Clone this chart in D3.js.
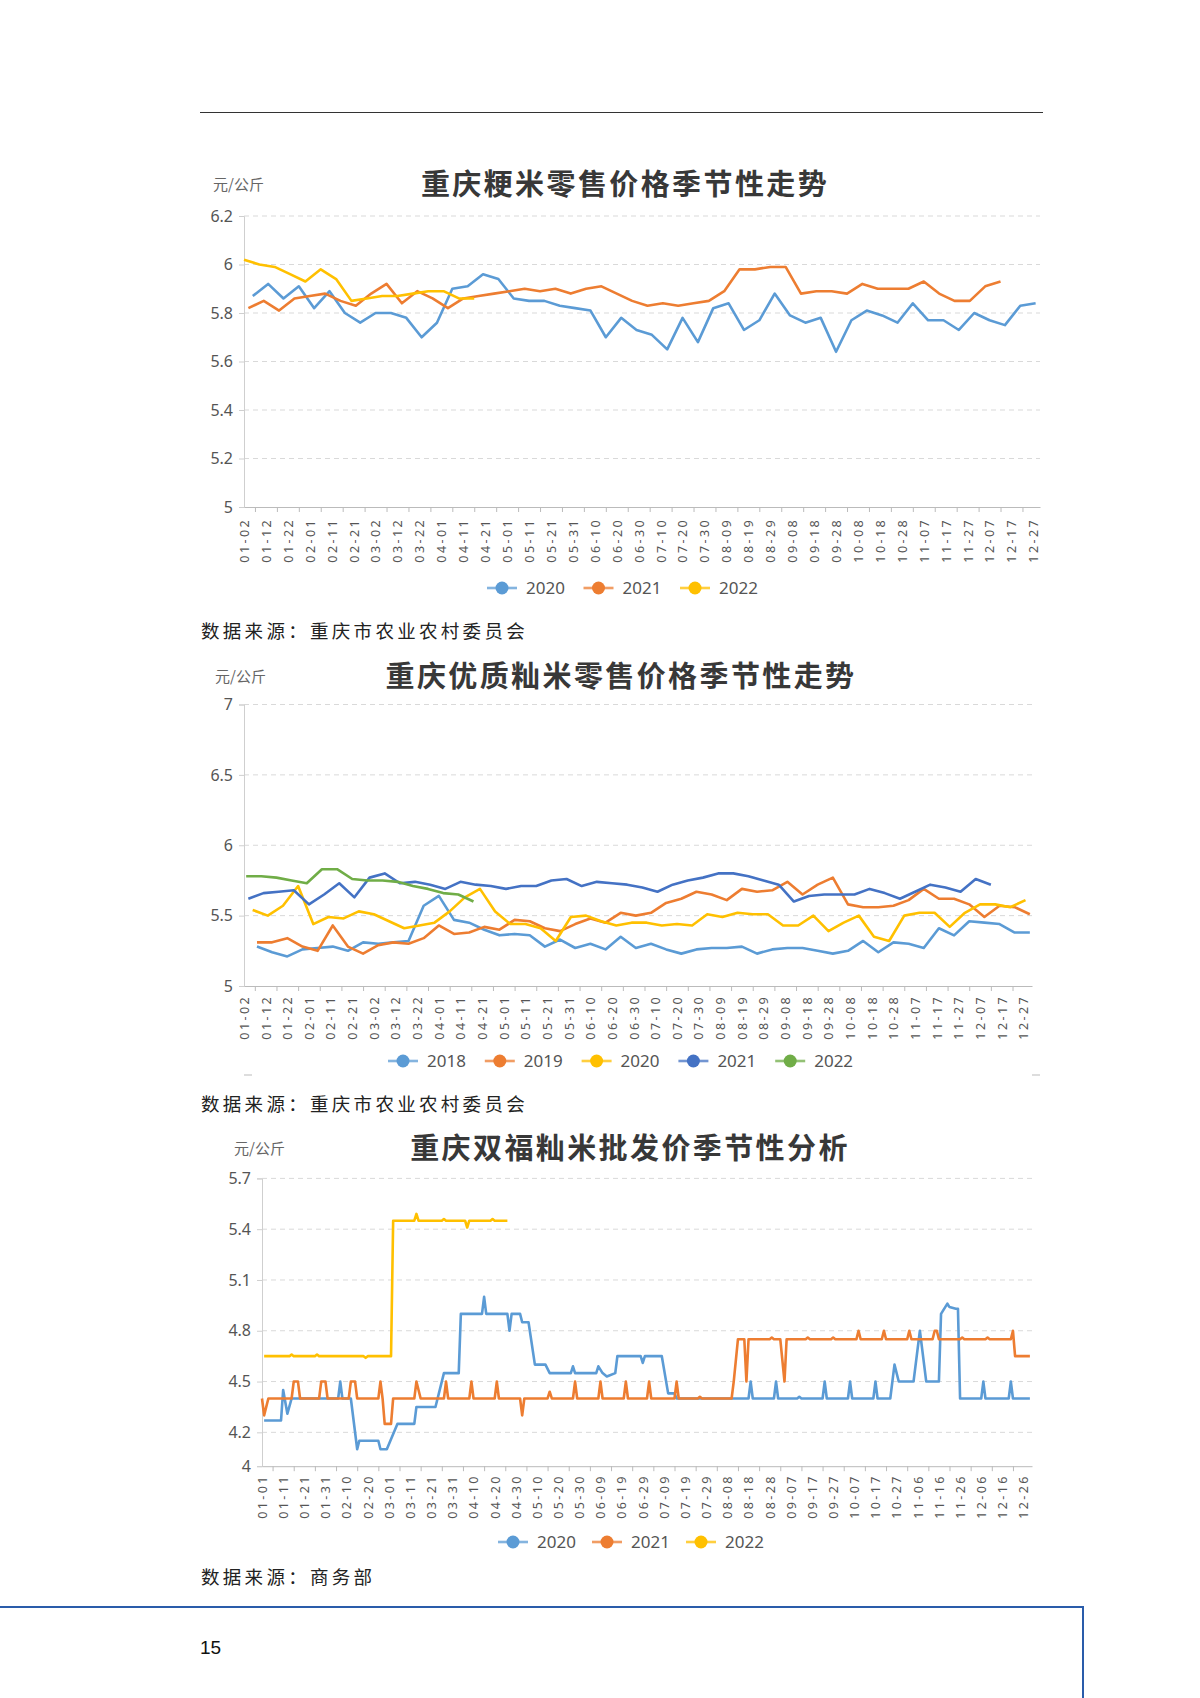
<!DOCTYPE html>
<html>
<head>
<meta charset="utf-8">
<script src="https://cdn.jsdelivr.net/npm/d3@7"></script>
<style>
body { margin: 0; background: #fff; }
svg { display: block; }
text { font-family: "Noto Sans CJK SC", "Noto Sans", sans-serif; }
</style>
</head>
<body>
<script>
// ---- data ----
var title1 = '重庆粳米零售价格季节性走势'
var title2 = '重庆优质籼米零售价格季节性走势'
var title3 = '重庆双福籼米批发价季节性分析'
var unitLabel = '元/公斤'

var yTicks1 = [5, 5.2, 5.4, 5.6, 5.8, 6, 6.2]
var yTicks2 = [5, 5.5, 6, 6.5, 7]
var yTicks3 = [4, 4.2, 4.5, 4.8, 5.1, 5.4, 5.7]

var xLabelsA = ['01-02','01-12','01-22','02-01','02-11','02-21','03-02','03-12','03-22','04-01','04-11','04-21',
	'05-01','05-11','05-21','05-31','06-10','06-20','06-30','07-10','07-20','07-30','08-09','08-19','08-29',
	'09-08','09-18','09-28','10-08','10-18','10-28','11-07','11-17','11-27','12-07','12-17','12-27']
var xLabelsB = ['01-01','01-11','01-21','01-31','02-10','02-20','03-01','03-11','03-21','03-31','04-10','04-20',
	'04-30','05-10','05-20','05-30','06-09','06-19','06-29','07-09','07-19','07-29','08-08','08-18','08-28',
	'09-07','09-17','09-27','10-07','10-17','10-27','11-06','11-16','11-26','12-06','12-16','12-26']

// chart 1: 粳米 weekly retail price
var jp2020Start = '01-06'
var jp2020 = [5.87,5.92,5.86,5.91,5.82,5.89,5.80,5.76,5.80,5.80,5.78,5.70,5.76,5.90,5.91,5.96,5.94,5.86,5.85,5.85,
	5.83,5.82,5.81,5.70,5.78,5.73,5.71,5.65,5.78,5.68,5.82,5.84,5.73,5.77,5.88,5.79,5.76,5.78,5.64,5.77,
	5.81,5.79,5.76,5.84,5.77,5.77,5.73,5.80,5.77,5.75,5.83,5.84]
var jp2021Start = '01-04'
var jp2021 = [5.82,5.85,5.81,5.86,5.87,5.88,5.85,5.83,5.88,5.92,5.84,5.89,5.86,5.82,5.86,5.87,5.88,5.89,5.90,5.89,
	5.90,5.88,5.90,5.91,5.88,5.85,5.83,5.84,5.83,5.84,5.85,5.89,5.98,5.98,5.99,5.99,5.88,5.89,5.89,5.88,
	5.92,5.90,5.90,5.90,5.93,5.88,5.85,5.85,5.91,5.93]
var jp2022Start = '01-02'
var jp2022 = [6.02,6.00,5.99,5.96,5.93,5.98,5.94,5.85,5.86,5.87,5.87,5.88,5.89,5.89,5.86,5.86]

// chart 2: 优质籼米 weekly retail price
var yz2018Start = '01-08'
var yz2018 = [5.28,5.24,5.21,5.26,5.27,5.28,5.25,5.31,5.30,5.31,5.32,5.57,5.64,5.47,5.45,5.40,5.36,5.37,5.36,5.28,
	5.33,5.27,5.30,5.26,5.35,5.27,5.30,5.26,5.23,5.26,5.27,5.27,5.28,5.23,5.26,5.27,5.27,5.25,5.23,5.25,
	5.32,5.24,5.31,5.30,5.27,5.41,5.36,5.46,5.45,5.44,5.38,5.38]
var yz2019Start = '01-08'
var yz2019 = [5.31,5.31,5.34,5.28,5.25,5.43,5.28,5.23,5.29,5.31,5.30,5.34,5.43,5.37,5.38,5.42,5.40,5.47,5.46,5.41,
	5.39,5.44,5.48,5.45,5.52,5.50,5.52,5.59,5.62,5.67,5.65,5.61,5.69,5.67,5.68,5.74,5.65,5.72,5.77,5.58,
	5.56,5.56,5.57,5.61,5.69,5.62,5.62,5.58,5.49,5.57,5.56,5.51]
var yz2020Start = '01-06'
var yz2020 = [5.54,5.50,5.57,5.71,5.44,5.49,5.48,5.53,5.51,5.46,5.41,5.43,5.45,5.53,5.63,5.69,5.53,5.44,5.44,5.41,
	5.32,5.49,5.50,5.46,5.43,5.45,5.45,5.43,5.44,5.43,5.51,5.49,5.52,5.51,5.51,5.43,5.43,5.50,5.39,5.45,
	5.50,5.35,5.32,5.50,5.52,5.52,5.42,5.52,5.58,5.58,5.56,5.61]
var yz2021Start = '01-04'
var yz2021 = [5.62,5.66,5.67,5.68,5.58,5.65,5.73,5.63,5.77,5.80,5.73,5.74,5.72,5.69,5.74,5.72,5.71,5.69,5.71,5.71,
	5.75,5.76,5.71,5.74,5.73,5.72,5.70,5.67,5.72,5.75,5.77,5.80,5.80,5.78,5.75,5.72,5.60,5.64,5.65,5.65,
	5.65,5.69,5.66,5.62,5.67,5.72,5.70,5.67,5.76,5.72]
var yz2022Start = '01-03'
var yz2022 = [5.78,5.78,5.77,5.75,5.73,5.83,5.83,5.76,5.75,5.75,5.74,5.71,5.69,5.66,5.65,5.60]

// chart 3: 双福籼米 daily wholesale price, [date, price] at each change
var sf2020 = [['01-02',4.27],['01-10',4.27],['01-11',4.45],['01-13',4.31],['01-15',4.4],['02-06',4.4],['02-07',4.5],
	['02-08',4.4],['02-12',4.4],['02-15',4.1],['02-16',4.15],['02-25',4.15],['02-26',4.1],['02-29',4.1],['03-05',4.25],
	['03-13',4.25],['03-14',4.35],['03-23',4.35],['03-27',4.55],['04-03',4.55],['04-04',4.9],['04-14',4.9],['04-15',5.0],
	['04-16',4.9],['04-26',4.9],['04-27',4.8],['04-28',4.9],['05-02',4.9],['05-03',4.85],['05-06',4.85],['05-09',4.6],
	['05-14',4.6],['05-16',4.55],['05-26',4.55],['05-27',4.59],['05-28',4.55],['06-07',4.55],['06-08',4.59],['06-10',4.55],
	['06-12',4.53],['06-16',4.55],['06-17',4.65],['06-28',4.65],['06-29',4.61],['06-30',4.65],['07-08',4.65],['07-11',4.43],
	['07-14',4.43],['07-15',4.4],['08-18',4.4],['08-19',4.5],['08-20',4.4],['08-30',4.4],['08-31',4.5],['09-01',4.4],
	['09-10',4.4],['09-11',4.41],['09-12',4.4],['09-22',4.4],['09-23',4.5],['09-24',4.4],['10-04',4.4],['10-05',4.5],
	['10-06',4.4],['10-16',4.4],['10-17',4.5],['10-18',4.4],['10-24',4.4],['10-26',4.6],['10-28',4.5],['11-04',4.5],
	['11-07',4.8],['11-10',4.5],['11-16',4.5],['11-17',4.9],['11-20',4.96],['11-21',4.94],['11-24',4.93],['11-25',4.93],
	['11-26',4.4],['12-06',4.4],['12-07',4.5],['12-08',4.4],['12-19',4.4],['12-20',4.5],['12-21',4.4],['12-29',4.4]]
var sf2021 = [['01-01',4.4],['01-02',4.3],['01-04',4.4],['01-15',4.4],['01-16',4.5],['01-18',4.5],['01-19',4.4],
	['01-28',4.4],['01-29',4.5],['01-31',4.5],['02-01',4.4],['02-11',4.4],['02-12',4.5],['02-14',4.5],['02-15',4.4],
	['02-25',4.4],['02-26',4.5],['02-27',4.4],['02-28',4.25],['03-02',4.25],['03-03',4.4],['03-13',4.4],['03-14',4.5],
	['03-16',4.4],['03-27',4.4],['03-28',4.5],['03-29',4.4],['04-08',4.4],['04-09',4.5],['04-10',4.4],['04-20',4.4],
	['04-21',4.5],['04-22',4.4],['05-02',4.4],['05-03',4.3],['05-04',4.4],['05-15',4.4],['05-16',4.44],['05-17',4.4],
	['05-27',4.4],['05-28',4.5],['05-29',4.4],['06-08',4.4],['06-09',4.5],['06-10',4.4],['06-20',4.4],['06-21',4.5],
	['06-22',4.4],['07-01',4.4],['07-02',4.5],['07-03',4.4],['07-14',4.4],['07-15',4.5],['07-16',4.4],['07-25',4.4],
	['07-26',4.41],['07-27',4.4],['08-10',4.4],['08-11',4.5],['08-13',4.75],['08-16',4.75],['08-17',4.5],['08-18',4.75],
	['08-28',4.75],['08-29',4.76],['08-30',4.75],['09-02',4.75],['09-04',4.5],['09-05',4.75],['09-14',4.75],['09-15',4.76],
	['09-16',4.75],['09-26',4.75],['09-27',4.76],['09-28',4.75],['10-08',4.75],['10-09',4.8],['10-10',4.75],['10-20',4.75],
	['10-21',4.8],['10-22',4.75],['11-01',4.75],['11-02',4.8],['11-03',4.75],['11-13',4.75],['11-14',4.8],['11-15',4.8],
	['11-16',4.75],['11-26',4.75],['11-27',4.76],['11-28',4.75],['12-08',4.75],['12-09',4.76],['12-10',4.75],['12-20',4.75],
	['12-21',4.8],['12-22',4.65],['12-29',4.65]]
var sf2022 = [['01-02',4.65],['01-14',4.65],['01-15',4.66],['01-16',4.65],['01-26',4.65],['01-27',4.66],['01-28',4.65],
	['02-18',4.65],['02-19',4.64],['02-20',4.65],['03-02',4.65],['03-03',5.45],['03-13',5.45],['03-14',5.49],['03-15',5.45],
	['03-26',5.45],['03-27',5.46],['03-28',5.45],['04-06',5.45],['04-07',5.41],['04-08',5.45],['04-18',5.45],['04-19',5.46],
	['04-20',5.45],['04-26',5.45]]

var blue = '#5B9BD5', orange = '#ED7D31', yellow = '#FFC000', navy = '#4472C4', green = '#70AD47'

// ---- helpers ----
// day of year on a leap-year calendar (the charts show 02-29)
var base = new Date(2020, 0, 0)
function dayOf(s) { return d3.timeDay.count(base, new Date(2020, +s.slice(0, 2) - 1, +s.slice(3))) }
function weekly(start, vals) {
	var d0 = dayOf(start)
	return vals.map(function (v, i) { return [d0 + 7 * i, v] })
}
function daily(pairs) { return pairs.map(function (p) { return [dayOf(p[0]), p[1]] }) }

var W = 1200, H = 1698
var svg = d3.select('body').append('svg').attr('width', W).attr('height', H)

// page decoration
svg.append('line').attr('x1', 200).attr('x2', 1043).attr('y1', 112.5).attr('y2', 112.5)
	.attr('stroke', '#333').attr('stroke-width', 1.2)

function drawChart(c) {
	var g = svg.append('g')
	var x = d3.scaleLinear().domain([dayOf(c.xFrom), dayOf(c.xTo)]).range([c.left, c.right])
	var y = d3.scaleLinear().domain([c.yTicks[0], c.yTicks[c.yTicks.length - 1]]).range([c.bottom, c.top])

	// title + unit
	g.append('text').attr('x', c.titleX).attr('y', c.titleY).attr('dy', '0.36em')
		.attr('text-anchor', 'middle').attr('font-size', 29).attr('font-weight', 700)
		.attr('letter-spacing', 2.4).attr('fill', '#383838').text(c.title)
	g.append('text').attr('x', c.unitX).attr('y', c.titleY).attr('dy', '0.36em')
		.attr('font-size', 15).attr('fill', '#666').text(unitLabel)

	// grid
	g.selectAll('.grid').data(c.yTicks.slice(1)).enter().append('line')
		.attr('x1', c.left).attr('x2', c.right)
		.attr('y1', function (d) { return y(d) }).attr('y2', function (d) { return y(d) })
		.attr('stroke', '#d9d9d9').attr('stroke-dasharray', '5,4')

	// y axis
	var ya = g.append('g').attr('transform', 'translate(' + c.left + ',0)')
		.call(d3.axisLeft(y).tickValues(c.yTicks).tickSize(5).tickPadding(6).tickFormat(String))
	ya.select('.domain').attr('stroke', '#cfcfcf')
	ya.selectAll('.tick line').attr('stroke', '#cfcfcf')
	ya.selectAll('text').attr('font-size', 16).attr('fill', '#555')
		.style('font-family', '"Noto Sans", sans-serif')

	// x axis: labels every 10 days, ticks between labels
	var labelDays = c.xLabels.map(dayOf)
	var xa = g.append('g').attr('transform', 'translate(0,' + c.bottom + ')')
		.call(d3.axisBottom(x).tickValues(labelDays).tickSize(0)
			.tickFormat(function (d, i) { return c.xLabels[i] }))
	xa.select('.domain').attr('stroke', '#bbb')
	xa.selectAll('text').attr('transform', 'rotate(-90)').attr('x', -c.labelGap).attr('y', 0)
		.attr('dy', '0.35em').style('text-anchor', 'end').attr('font-size', 12.5)
		.attr('letter-spacing', 2.4).attr('fill', '#555')
		.style('font-family', '"Noto Sans", sans-serif')
	g.append('g').attr('transform', 'translate(0,' + c.bottom + ')')
		.call(d3.axisBottom(x).tickValues(labelDays.map(function (d) { return d + 5 })
			.filter(function (d) { return d <= x.domain()[1] })).tickSize(5).tickFormat(''))
		.call(function (s) { s.select('.domain').remove(); s.selectAll('line').attr('stroke', '#bbb') })

	// lines
	var line = d3.line().x(function (d) { return x(d[0]) }).y(function (d) { return y(d[1]) })
	g.selectAll('.series').data(c.series).enter().append('path')
		.attr('d', function (s) { return line(s.points) })
		.attr('fill', 'none').attr('stroke', function (s) { return s.color })
		.attr('stroke-width', 2.6).attr('stroke-linejoin', 'round')

	// legend
	var lg = g.selectAll('.legend').data(c.series).enter().append('g')
		.attr('transform', function (s, i) { return 'translate(' + (c.legendX + i * c.legendStep) + ',' + c.legendY + ')' })
	lg.append('line').attr('x1', -15).attr('x2', 15).attr('stroke', function (s) { return s.color })
		.attr('stroke-width', 2.6).attr('opacity', 0.75)
	lg.append('circle').attr('r', 6.5).attr('fill', function (s) { return s.color })
	lg.append('text').attr('x', 24).attr('dy', '0.36em').attr('font-size', 17).attr('fill', '#555')
		.style('font-family', '"Noto Sans", sans-serif').text(function (s) { return s.name })

	// source
	svg.append('text').attr('x', 201).attr('y', c.sourceY).attr('dy', '0.36em')
		.attr('font-size', 18.5).attr('letter-spacing', 3.3).attr('fill', '#222').text(c.source)
}

drawChart({
	title: title1, titleX: 625, titleY: 185, unitX: 213,
	left: 244, right: 1040, top: 216, bottom: 507,
	xFrom: '01-02', xTo: '12-30', xLabels: xLabelsA, labelGap: 11, yTicks: yTicks1,
	legendX: 502, legendStep: 96.5, legendY: 588,
	source: '数据来源：重庆市农业农村委员会', sourceY: 631,
	series: [
		{ name: '2020', color: blue, points: weekly(jp2020Start, jp2020) },
		{ name: '2021', color: orange, points: weekly(jp2021Start, jp2021) },
		{ name: '2022', color: yellow, points: weekly(jp2022Start, jp2022) }
	]
})

drawChart({
	title: title2, titleX: 621, titleY: 677, unitX: 215,
	left: 244, right: 1032, top: 704.5, bottom: 986,
	xFrom: '01-02', xTo: '12-31', xLabels: xLabelsA, labelGap: 9, yTicks: yTicks2,
	legendX: 403, legendStep: 96.8, legendY: 1061,
	source: '数据来源：重庆市农业农村委员会', sourceY: 1104,
	series: [
		{ name: '2018', color: blue, points: weekly(yz2018Start, yz2018) },
		{ name: '2019', color: orange, points: weekly(yz2019Start, yz2019) },
		{ name: '2020', color: yellow, points: weekly(yz2020Start, yz2020) },
		{ name: '2021', color: navy, points: weekly(yz2021Start, yz2021) },
		{ name: '2022', color: green, points: weekly(yz2022Start, yz2022) }
	]
})
// small marks under chart 2
svg.selectAll('.mark').data([244, 1032]).enter().append('line')
	.attr('x1', function (d) { return d }).attr('x2', function (d) { return d + 8 })
	.attr('y1', 1075).attr('y2', 1075).attr('stroke', '#bbb')

drawChart({
	title: title3, titleX: 630, titleY: 1149, unitX: 234,
	left: 262, right: 1032, top: 1178.4, bottom: 1466.2,
	xFrom: '01-01', xTo: '12-30', xLabels: xLabelsB, labelGap: 8, yTicks: yTicks3,
	legendX: 513, legendStep: 94, legendY: 1542,
	source: '数据来源：商务部', sourceY: 1577,
	series: [
		{ name: '2020', color: blue, points: daily(sf2020) },
		{ name: '2021', color: orange, points: daily(sf2021) },
		{ name: '2022', color: yellow, points: daily(sf2022) }
	]
})

// page footer frame and page number
svg.append('path').attr('d', 'M0,1607H1083V1698').attr('fill', 'none')
	.attr('stroke', '#2a5caa').attr('stroke-width', 2)
svg.append('text').attr('x', 200).attr('y', 1654).attr('font-size', 19).attr('fill', '#111')
	.style('font-family', '"Liberation Sans", sans-serif').text('15')
</script>
</body>
</html>
